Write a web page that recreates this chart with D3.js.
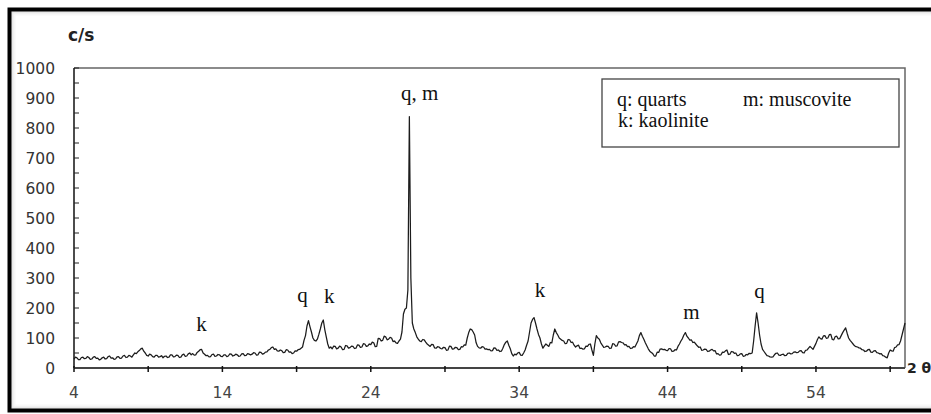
<!DOCTYPE html>
<html>
<head>
<meta charset="utf-8">
<script src="https://cdnjs.cloudflare.com/ajax/libs/d3/7.8.5/d3.min.js"></script>
<style>
  html, body { margin: 0; padding: 0; background: #fff; }
</style>
</head>
<body>
<div id="chart"></div>
<script>
// diffraction counts, one value every 0.1 degree from 4 to 60 (2 theta), one row per degree
var angleStart = 4;
var angleStep = 0.1;
var counts = [
  30, 36, 34, 28, 28, 35, 36, 31, 32, 38,
  35, 29, 30, 36, 38, 32, 33, 27, 29, 34,
  36, 30, 31, 38, 40, 33, 34, 29, 30, 37,
  38, 32, 33, 40, 42, 35, 36, 42, 40, 36,
  44, 50, 48, 54, 58, 64, 66, 56, 50, 42,
  40, 46, 44, 38, 36, 42, 42, 36, 38, 41,
  34, 39, 40, 35, 36, 44, 44, 37, 38, 43,
  42, 35, 36, 44, 46, 39, 40, 47, 50, 44,
  48, 43, 44, 52, 56, 61, 62, 50, 46, 41,
  42, 37, 38, 45, 46, 39, 40, 45, 44, 39,
  38, 44, 44, 38, 40, 47, 46, 40, 42, 46,
  44, 39, 40, 47, 48, 41, 42, 48, 46, 44,
  46, 51, 50, 43, 44, 53, 52, 46, 48, 53,
  54, 60, 62, 68, 70, 62, 64, 57, 56, 60,
  58, 51, 52, 61, 60, 53, 54, 48, 50, 57,
  56, 61, 62, 66, 70, 92, 108, 140, 158, 138,
  120, 100, 92, 90, 96, 112, 130, 150, 160, 128,
  104, 80, 66, 70, 64, 73, 72, 64, 66, 73,
  70, 61, 62, 75, 74, 66, 68, 73, 72, 65,
  66, 77, 76, 69, 70, 81, 80, 72, 74, 80,
  78, 86, 84, 71, 72, 99, 98, 90, 92, 106,
  104, 94, 96, 102, 100, 88, 90, 84, 82, 90,
  96, 120, 180, 196, 200, 260, 838, 300, 150, 130,
  118, 104, 96, 90, 88, 95, 94, 86, 80, 76,
  72, 79, 78, 67, 66, 71, 70, 65, 64, 69,
  68, 59, 60, 73, 72, 63, 64, 69, 68, 61,
  62, 71, 70, 77, 76, 100, 118, 130, 128, 120,
  110, 84, 72, 67, 66, 71, 70, 63, 64, 61,
  62, 57, 58, 67, 66, 59, 60, 55, 56, 66,
  78, 86, 90, 76, 64, 48, 40, 46, 44, 50,
  52, 43, 42, 50, 60, 76, 90, 120, 150, 162,
  168, 150, 130, 112, 100, 80, 66, 74, 80, 76,
  72, 85, 84, 110, 130, 118, 110, 100, 96, 92,
  90, 81, 82, 95, 94, 85, 86, 76, 70, 74,
  76, 65, 66, 63, 64, 73, 72, 79, 80, 60,
  42, 80, 108, 100, 96, 84, 76, 69, 70, 73,
  72, 65, 66, 81, 80, 73, 74, 87, 88, 85,
  84, 77, 78, 71, 72, 65, 66, 71, 70, 80,
  90, 108, 118, 106, 96, 84, 74, 64, 56, 52,
  48, 40, 40, 53, 52, 63, 64, 61, 62, 59,
  58, 65, 64, 55, 56, 61, 60, 72, 80, 90,
  98, 110, 118, 106, 100, 93, 94, 85, 86, 80,
  74, 69, 70, 59, 60, 63, 62, 55, 56, 60,
  62, 57, 58, 47, 48, 43, 44, 53, 52, 57,
  60, 45, 46, 55, 54, 49, 50, 41, 42, 47,
  48, 39, 40, 45, 44, 49, 48, 50, 90, 140,
  184, 150, 110, 80, 62, 55, 48, 41, 40, 37,
  36, 37, 44, 49, 50, 43, 42, 45, 46, 41,
  42, 49, 50, 47, 48, 53, 54, 51, 52, 57,
  58, 51, 50, 59, 60, 66, 72, 67, 62, 72,
  82, 95, 104, 98, 96, 107, 108, 99, 100, 111,
  112, 95, 94, 105, 106, 97, 98, 108, 118, 126,
  134, 116, 100, 92, 86, 80, 74, 71, 70, 67,
  66, 61, 60, 55, 56, 61, 62, 53, 52, 57,
  58, 51, 50, 47, 48, 41, 40, 36, 34, 50,
  60, 57, 56, 68, 70, 77, 78, 90, 110, 130,
  150
];

var yTicks = [0, 100, 200, 300, 400, 500, 600, 700, 800, 900, 1000];
var yMinorTicks = [0, 50, 100, 150, 200, 250, 300, 350, 400, 450, 500, 550, 600, 650, 700, 750, 800, 850, 900, 950, 1000];
var xTicks = [4, 14, 24, 34, 44, 54];
var xMinorTicks = [4, 9, 14, 19, 24, 29, 34, 39, 44, 49, 54, 59];

// peak labels: text, 2 theta, counts level of the baseline of the text
var peakText = ["k", "q", "k", "q, m", "k", "m", "q"];
var peakAngle = [12.6, 19.4, 21.2, 27.3, 35.4, 45.6, 50.2];
var peakLevel = [123, 220, 217, 893, 237, 165, 233];

var legendLines = ["q: quarts", "m: muscovite", "k: kaolinite"];

var width = 931, height = 414;
var margin = { left: 74, right: 26, top: 68, bottom: 46 };

var svg = d3.select("#chart").append("svg")
    .attr("width", width)
    .attr("height", height);

var x = d3.scaleLinear().domain([4, 60]).range([margin.left, width - margin.right]);
var y = d3.scaleLinear().domain([0, 1000]).range([height - margin.bottom, margin.top]);

// outer frame with soft inner shadow
var shades = ["#d6d6d6", "#e6e6e6", "#f0f0f0", "#f7f7f7"];
shades.forEach(function (c, i) {
    svg.append("rect")
        .attr("x", 12 + i).attr("y", 12 + i)
        .attr("width", 940).attr("height", 396 - 2 * i)
        .attr("fill", "none")
        .attr("stroke", c)
        .attr("stroke-width", 1);
});
svg.append("rect")
    .attr("x", 9.5).attr("y", 9.5)
    .attr("width", 945).attr("height", 401)
    .attr("fill", "none")
    .attr("stroke", "#000")
    .attr("stroke-width", 4);

// plot area top and right border
svg.append("path")
    .attr("d", "M" + x(4) + "," + y(1000) + "H" + x(60) + "V" + y(0))
    .attr("fill", "none")
    .attr("stroke", "#666")
    .attr("stroke-width", 1.5);

// y axis
var yAxis = svg.append("g").attr("transform", "translate(" + x(4) + ",0)");
yAxis.append("line")
    .attr("y1", y(0)).attr("y2", y(1000))
    .attr("stroke", "#111").attr("stroke-width", 1.5);
yAxis.selectAll(".ytick").data(yMinorTicks).enter().append("line")
    .attr("x1", 0).attr("x2", 5)
    .attr("y1", function (d) { return y(d); })
    .attr("y2", function (d) { return y(d); })
    .attr("stroke", "#222").attr("stroke-width", 1);
yAxis.selectAll(".ylab").data(yTicks).enter().append("text")
    .attr("x", -19)
    .attr("y", function (d) { return y(d); })
    .attr("dy", "0.36em")
    .attr("text-anchor", "end")
    .attr("font-family", "DejaVu Sans, sans-serif")
    .attr("font-size", 15.5)
    .attr("fill", "#333")
    .text(function (d) { return d; });

// x axis
var xAxis = svg.append("g").attr("transform", "translate(0," + y(0) + ")");
xAxis.append("line")
    .attr("x1", x(4)).attr("x2", x(60))
    .attr("stroke", "#444").attr("stroke-width", 1.8);
xAxis.selectAll(".xtick").data(xMinorTicks).enter().append("line")
    .attr("x1", function (d) { return x(d); })
    .attr("x2", function (d) { return x(d); })
    .attr("y1", -2).attr("y2", 4)
    .attr("stroke", "#111").attr("stroke-width", 1.5);
xAxis.selectAll(".xlab").data(xTicks).enter().append("text")
    .attr("x", function (d) { return x(d); })
    .attr("y", 30)
    .attr("text-anchor", "middle")
    .attr("font-family", "DejaVu Sans, sans-serif")
    .attr("font-size", 15.5)
    .attr("fill", "#444")
    .text(function (d) { return d; });

// axis titles
svg.append("text")
    .attr("x", 68).attr("y", 41)
    .attr("font-family", "DejaVu Sans, sans-serif")
    .attr("font-size", 17)
    .attr("font-weight", "bold")
    .attr("fill", "#222")
    .text("c/s");
svg.append("text")
    .attr("x", x(60) + 2).attr("y", y(0) + 5)
    .attr("font-family", "DejaVu Sans, sans-serif")
    .attr("font-size", 14)
    .attr("font-weight", "bold")
    .attr("fill", "#222")
    .text("2 θ");

// diffraction trace
var line = d3.line()
    .x(function (d, i) { return x(angleStart + i * angleStep); })
    .y(function (d) { return y(d); });
svg.append("path")
    .datum(counts)
    .attr("d", line)
    .attr("fill", "none")
    .attr("stroke", "#1c1c1c")
    .attr("stroke-width", 1.25)
    .attr("stroke-linejoin", "round");

// peak labels
svg.selectAll(".peak").data(peakText).enter().append("text")
    .attr("x", function (d, i) { return x(peakAngle[i]); })
    .attr("y", function (d, i) { return y(peakLevel[i]); })
    .attr("text-anchor", "middle")
    .attr("font-family", "Liberation Serif, Times New Roman, serif")
    .attr("font-size", 21)
    .attr("fill", "#111")
    .text(function (d) { return d; });

// legend box
var legend = svg.append("g");
legend.append("rect")
    .attr("x", 602).attr("y", 79)
    .attr("width", 297).attr("height", 68)
    .attr("fill", "#fff")
    .attr("stroke", "#444")
    .attr("stroke-width", 1.3);
legend.append("text")
    .attr("x", 617).attr("y", 106)
    .attr("font-family", "Liberation Serif, Times New Roman, serif")
    .attr("font-size", 20).attr("fill", "#111")
    .text(legendLines[0]);
legend.append("text")
    .attr("x", 743).attr("y", 106)
    .attr("font-family", "Liberation Serif, Times New Roman, serif")
    .attr("font-size", 20).attr("fill", "#111")
    .text(legendLines[1]);
legend.append("text")
    .attr("x", 618).attr("y", 127)
    .attr("font-family", "Liberation Serif, Times New Roman, serif")
    .attr("font-size", 20).attr("fill", "#111")
    .text(legendLines[2]);
</script>
</body>
</html>
